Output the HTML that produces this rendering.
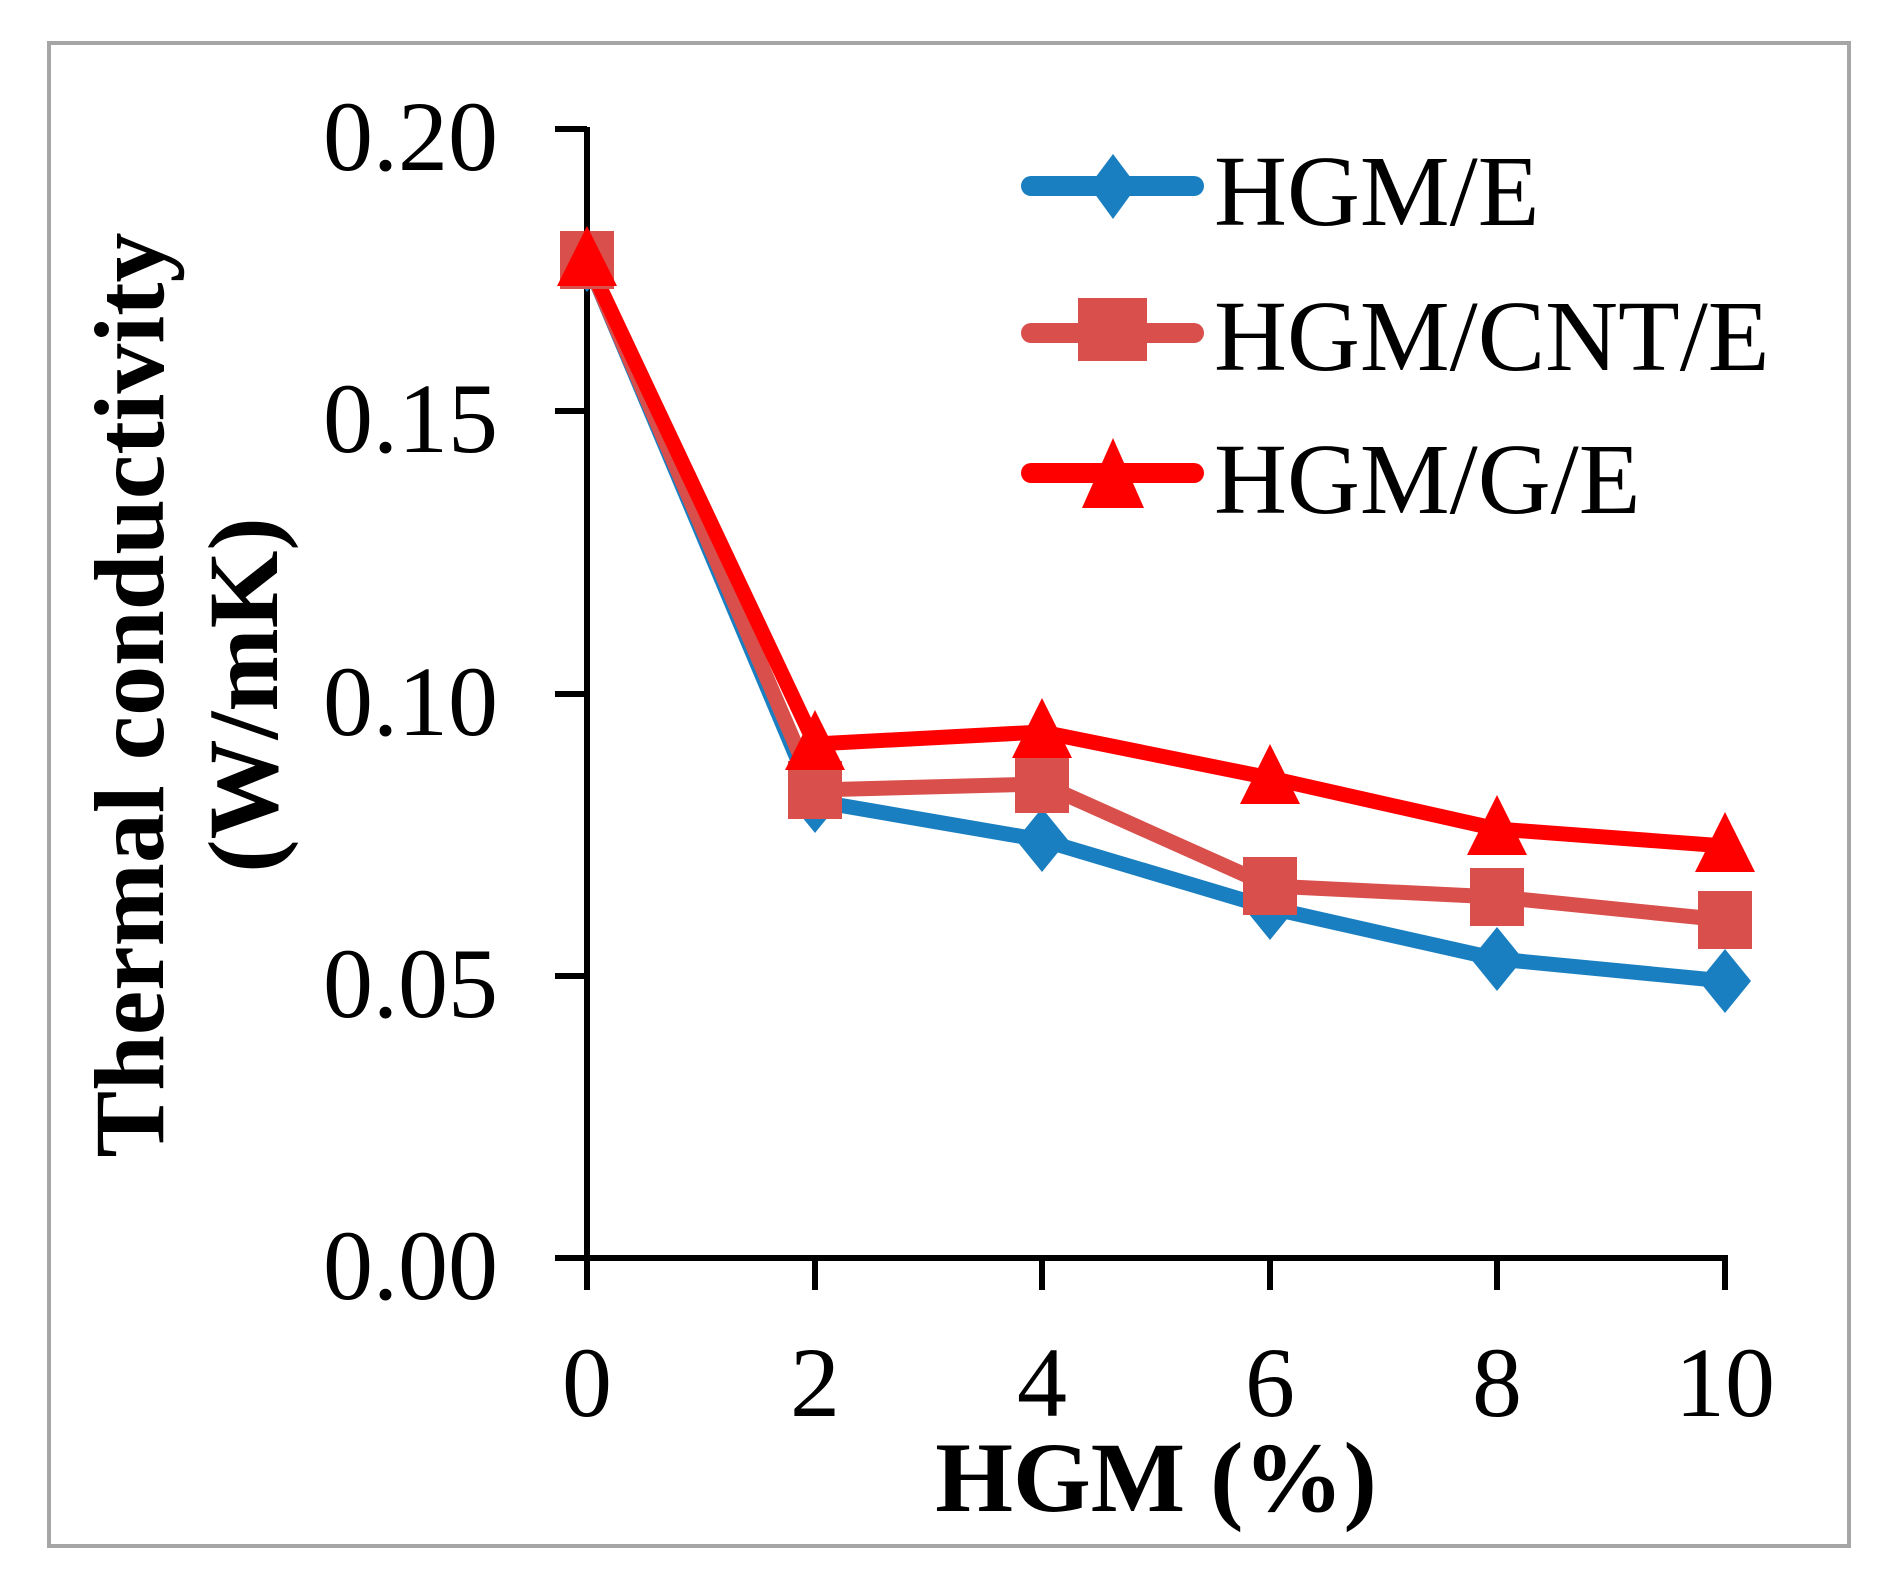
<!DOCTYPE html>
<html><head><meta charset="utf-8"><style>
html,body{margin:0;padding:0;background:#fff;}
svg{display:block;}
text{font-family:"Liberation Serif","Times New Roman",serif;fill:#000;}
</style></head><body>
<svg width="1886" height="1580" viewBox="0 0 1886 1580" xmlns="http://www.w3.org/2000/svg">
<rect x="49" y="43" width="1800" height="1503" fill="#fff" stroke="#a6a6a6" stroke-width="4"/>
<g stroke="#000" stroke-width="6" fill="none">
<line x1="587" y1="127" x2="587" y2="1261"/>
<line x1="584" y1="1258" x2="1728" y2="1258"/>
<line x1="555" y1="129" x2="587" y2="129"/>
<line x1="555" y1="411" x2="587" y2="411"/>
<line x1="555" y1="694" x2="587" y2="694"/>
<line x1="555" y1="976" x2="587" y2="976"/>
<line x1="555" y1="1258" x2="587" y2="1258"/>
<line x1="587" y1="1258" x2="587" y2="1290"/>
<line x1="815" y1="1258" x2="815" y2="1290"/>
<line x1="1042" y1="1258" x2="1042" y2="1290"/>
<line x1="1270" y1="1258" x2="1270" y2="1290"/>
<line x1="1497" y1="1258" x2="1497" y2="1290"/>
<line x1="1725" y1="1258" x2="1725" y2="1290"/>
</g>
<g font-size="100" text-anchor="end">
<text x="498" y="170">0.20</text>
<text x="498" y="452">0.15</text>
<text x="498" y="735">0.10</text>
<text x="498" y="1017">0.05</text>
<text x="498" y="1299">0.00</text>
</g>
<g font-size="100" text-anchor="middle">
<text x="587" y="1416">0</text>
<text x="815" y="1416">2</text>
<text x="1042" y="1416">4</text>
<text x="1270" y="1416">6</text>
<text x="1497" y="1416">8</text>
<text x="1725" y="1416">10</text>
</g>
<text x="1156" y="1511" font-size="100" font-weight="bold" text-anchor="middle">HGM (%)</text>
<text transform="translate(163,695) rotate(-90)" font-size="100" font-weight="bold" text-anchor="middle">Thermal conductivity</text>
<text transform="translate(277,695) rotate(-90)" font-size="100" font-weight="bold" text-anchor="middle">(W/mK)</text>
<g fill="none" stroke-width="15" stroke-linejoin="round">
<polyline stroke="#1a7fc1" points="587,260 815,801 1042,840 1270,908 1497,959 1725,981"/>
<polyline stroke="#d94f4b" points="587,260 815,790 1042,784 1270,886 1497,897 1725,920"/>
<polyline stroke="#ff0000" points="587,260 815,744 1042,732 1270,778 1497,829 1725,846"/>
</g>
<g fill="#1a7fc1">
<path d="M587,228 l26,32 -26,32 -26,-32z"/>
<path d="M815,769 l26,32 -26,32 -26,-32z"/>
<path d="M1042,808 l26,32 -26,32 -26,-32z"/>
<path d="M1270,876 l26,32 -26,32 -26,-32z"/>
<path d="M1497,927 l26,32 -26,32 -26,-32z"/>
<path d="M1725,949 l26,32 -26,32 -26,-32z"/>
</g>
<g fill="#d94f4b">
<rect x="560" y="231" width="54" height="58"/>
<rect x="788" y="761" width="54" height="58"/>
<rect x="1015" y="755" width="54" height="58"/>
<rect x="1243" y="857" width="54" height="58"/>
<rect x="1470" y="868" width="54" height="58"/>
<rect x="1698" y="891" width="54" height="58"/>
</g>
<g fill="#ff0000">
<path d="M587,226 l30,60 -60,0z"/>
<path d="M815,710 l30,60 -60,0z"/>
<path d="M1042,698 l30,60 -60,0z"/>
<path d="M1270,744 l30,60 -60,0z"/>
<path d="M1497,795 l30,60 -60,0z"/>
<path d="M1725,812 l30,60 -60,0z"/>
</g>
<g stroke-width="20" stroke-linecap="round">
<line x1="1031" y1="186" x2="1194" y2="186" stroke="#1a7fc1"/>
<line x1="1031" y1="333" x2="1194" y2="333" stroke="#d94f4b"/>
<line x1="1031" y1="473" x2="1194" y2="473" stroke="#ff0000"/>
</g>
<path d="M1113,154 l24,32 -24,33 -24,-33z" fill="#1a7fc1"/>
<rect x="1078" y="298" width="69" height="63" fill="#d94f4b"/>
<path d="M1113,438 l31,70 -62,0z" fill="#ff0000"/>
<g font-size="101">
<text x="1214" y="225">HGM/E</text>
<text x="1214" y="370">HGM/CNT/E</text>
<text x="1214" y="513">HGM/G/E</text>
</g>
</svg>
</body></html>
